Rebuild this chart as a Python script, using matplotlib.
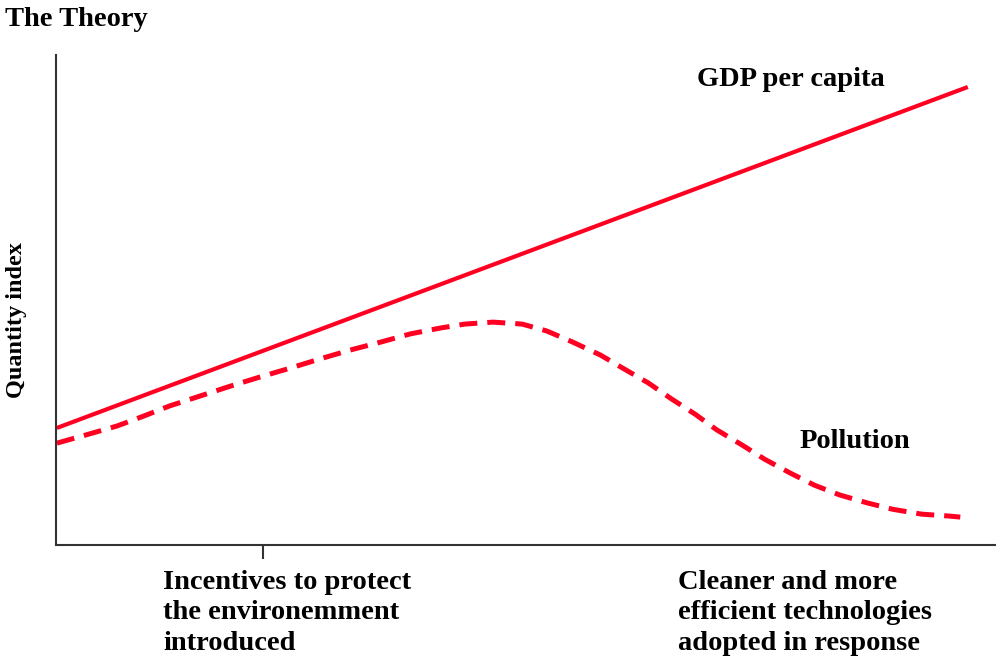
import numpy as np
import matplotlib
matplotlib.use("Agg")
import matplotlib.pyplot as plt

# index scale 0..100 on both axes
gdp_x = [0.1, 97.0]
gdp_y = [23.9, 93.5]

pollution_x = [0.1, 3.6, 6.5, 9.3, 12.1, 15.3, 18.5, 21.7, 24.9, 28.1, 31.3, 34.5,
               37.7, 40.9, 43.5, 46.5, 49.6, 52.2, 55.0, 57.9, 60.3, 63.0,
               65.5, 68.0, 70.3, 73.0, 75.4, 78.1, 80.7, 83.4, 86.3, 89.0, 92.1,
               95.1, 96.2]
pollution_y = [20.8, 22.7, 24.3, 26.3, 28.4, 30.4, 32.4, 34.3, 36.1, 38.0, 39.8, 41.4,
               43.1, 44.3, 45.1, 45.5, 45.1, 43.7, 41.4, 38.8, 36.1, 33.1,
               29.8, 26.7, 23.5, 20.4, 17.5, 14.7, 12.2, 10.2, 8.6, 7.3, 6.3,
               5.9, 5.7]

tick_pos = [22.0]
left_note = "Incentives to protect\nthe environemment\nintroduced"
right_note = "Cleaner and more\nefficient technologies\nadopted in response"

plt.rcParams['font.family'] = ['Liberation Serif', 'DejaVu Serif']
red = '#ff0022'
axis_col = '#333333'

fig = plt.figure(figsize=(9.96, 6.62), dpi=100)
ax = fig.add_axes([0.0562, 0.1767, 0.9438, 0.740])

ax.plot(gdp_x, gdp_y, color=red, lw=3.0, solid_capstyle='butt')
line, = ax.plot(pollution_x, pollution_y, color=red, lw=3.6)
line.set_dashes([3.6, 2.0])

ax.set_xlim(0, 100)
ax.set_ylim(0, 100)
ax.set_xticks(tick_pos)
ax.set_xticklabels([])
ax.set_yticks([])
ax.tick_params(axis='x', direction='out', length=10, width=1.5, color=axis_col)
for s in ['top', 'right']:
    ax.spines[s].set_visible(False)
for s in ['left', 'bottom']:
    ax.spines[s].set_color(axis_col)
    ax.spines[s].set_linewidth(1.5)

ax.text(68.2, 95.1, "GDP per capita", fontsize=20.5, fontweight='bold', va='center', ha='left')
ax.text(79.1, 21.2, "Pollution", fontsize=20.5, fontweight='bold', va='center', ha='left')

fig.text(0.005, 0.970, "The Theory", fontsize=20.5, fontweight='bold', va='center', ha='left')
fig.text(0.017, 0.517, "Quantity index", fontsize=17.5, fontweight='bold', rotation=90,
         va='center', ha='center')
fig.text(0.1637, 0.139, left_note, fontsize=20.5, fontweight='bold', va='top', ha='left',
         linespacing=1.28)
fig.text(0.681, 0.139, right_note, fontsize=20.5, fontweight='bold', va='top', ha='left',
         linespacing=1.28)

fig.savefig("out.png", dpi=100)
